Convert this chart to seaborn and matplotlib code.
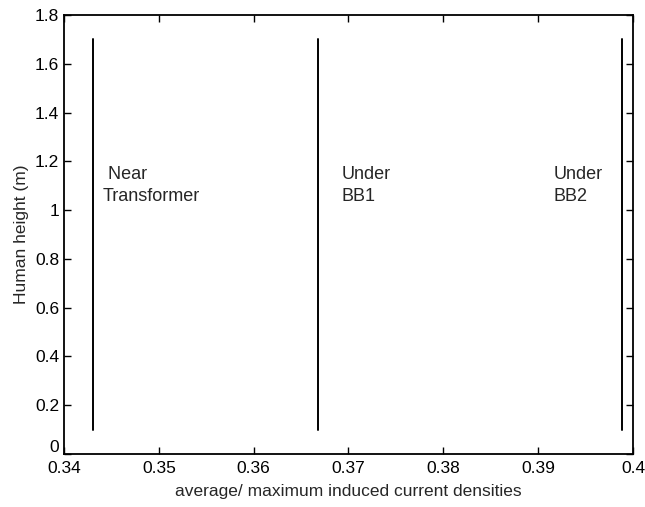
import matplotlib
matplotlib.use("Agg")
import matplotlib.pyplot as plt
import matplotlib.transforms as mtransforms
import seaborn as sns
import pandas as pd

# Data
locations = [" Near\nTransformer", "Under\nBB1", "Under\nBB2"]
ratios = [0.3431, 0.3668, 0.3988]
height_min = 0.1
height_max = 1.7
label_x = [0.3441, 0.3693, 0.3916]
label_y = [1.10, 1.10, 1.10]
x_ticks = [0.34, 0.35, 0.36, 0.37, 0.38, 0.39, 0.4]
x_tick_labels = ["0.34", "0.35", "0.36", "0.37", "0.38", "0.39", "0.4"]
y_ticks = [0, 0.2, 0.4, 0.6, 0.8, 1, 1.2, 1.4, 1.6, 1.8]
y_tick_labels = ["0", "0.2", "0.4", "0.6", "0.8", "1", "1.2", "1.4", "1.6", "1.8"]

rows = []
for loc, r in zip(locations, ratios):
    rows.append({"loc": loc, "x": r, "y": height_min})
    rows.append({"loc": loc, "x": r, "y": height_max})
df = pd.DataFrame(rows)

sns.set_style("ticks")
plt.rcParams['font.family'] = ['Liberation Sans', 'DejaVu Sans']

fig = plt.figure(figsize=(6.45, 5.07), dpi=100)
ax = fig.add_axes([64/645, 53/507, 569/645, 439/507])

sns.lineplot(data=df, x="x", y="y", hue="loc", units="loc", estimator=None,
             sort=False, palette=["black"] * 3, legend=False, linewidth=1.4, ax=ax)

for lab, lx, ly in zip(locations, label_x, label_y):
    ax.text(lx, ly, lab, fontsize=13, ha="left", va="center", linespacing=1.35)

ax.set_xlim(0.34, 0.4)
ax.set_ylim(0, 1.8)
ax.set_xticks(x_ticks)
ax.set_xticklabels(x_tick_labels)
ax.set_yticks(y_ticks)
ax.set_yticklabels(y_tick_labels)
ax.set_xlabel("average/ maximum induced current densities", fontsize=12.5, labelpad=6)
ax.set_ylabel("Human height (m)", fontsize=12.5)
ax.tick_params(direction="in", top=True, right=True, length=5, width=1,
               labelsize=12.5, colors="black")
ax.tick_params(axis="x", pad=5)
for s in ax.spines.values():
    s.set_visible(True)
    s.set_linewidth(1.3)
    s.set_color("black")

# lift the "0" y tick label slightly so it does not collide with "0.34"
zero_lbl = ax.get_yticklabels()[0]
zero_lbl.set_transform(zero_lbl.get_transform() +
                       mtransforms.ScaledTranslation(0, 6/72, fig.dpi_scale_trans))

fig.savefig("out.png", dpi=100)
